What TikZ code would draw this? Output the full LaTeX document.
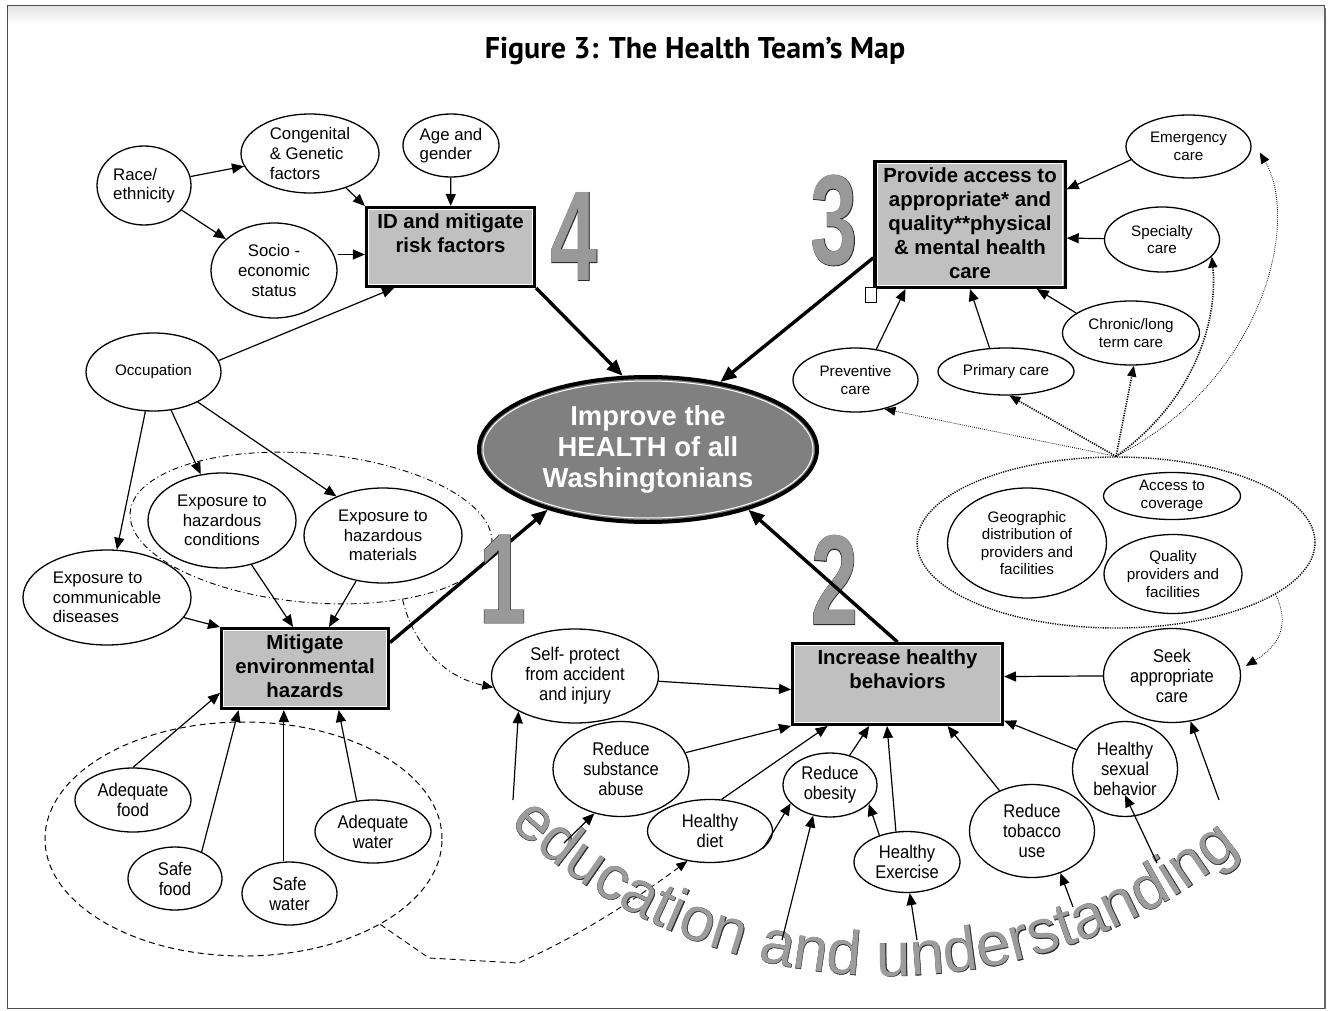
\documentclass[tikz,border=0pt]{standalone}
\usepackage{fontspec}
\setmainfont{Liberation Sans}
\newfontfamily\narrowfont[FakeStretch=0.9]{Liberation Sans}
\newfontfamily\titlefont{PT Sans}
\newfontfamily\digitfont[FakeStretch=0.66]{Liberation Sans}
\newfontfamily\digitedge[FakeStretch=0.66,FakeBold=0.7]{Liberation Sans}
\newfontfamily\edufont{Liberation Sans}
\newfontfamily\eduedge[FakeBold=0.6]{Liberation Sans}
\usetikzlibrary{shapes.geometric,arrows.meta,decorations.text}

\definecolor{boxgray}{HTML}{C0C0C0}
\definecolor{goalgray}{HTML}{808080}
\definecolor{digitgray}{HTML}{999999}
\definecolor{numedge}{HTML}{2A2A2A}
\definecolor{edugray}{HTML}{9C9C9C}

% text of the goal boxes sits at the top
\newcommand{\boxlines}[3]{\parbox[c][#2][t]{#1}{\centering #3}}
% big outlined step numbers
\newcommand{\bignum}[3]{%
  \node[num, text=numedge, font=\digitedge\bfseries\fontsize{64}{64}\selectfont] (#1) at (#2) {#3};
  \node[num] (#1fill) at (#2) {#3};}

\tikzset{
  bubble/.style={ellipse, draw, line width=.65pt, inner sep=0pt, align=center,
    font=\narrowfont\fontsize{9.2}{10}\selectfont},
  plain/.style={ellipse, draw, line width=.65pt, inner sep=0pt, align=center,
    font=\fontsize{8.4}{9.8}\selectfont},
  smallbubble/.style={ellipse, draw, line width=.65pt, inner sep=0pt, align=center,
    font=\fontsize{7.6}{8.8}\selectfont},
  goalbox/.style={rectangle, draw, line width=1.6pt, fill=boxgray, inner sep=3pt,
    font=\bfseries\fontsize{10.2}{12}\selectfont},
  zone/.style={ellipse, draw, inner sep=0pt},
  num/.style={inner sep=0pt, text=digitgray, font=\digitfont\bfseries\fontsize{64}{64}\selectfont},
  arr/.style={-{Triangle[length=6pt,width=5pt]}, line width=.6pt},
  bigarr/.style={-{Triangle[length=8pt,width=6.5pt]}, line width=1.7pt},
  dotarr/.style={-{Triangle[length=5.5pt,width=4.5pt]}, line width=.4pt, dash pattern=on .4pt off .6pt},
  bolddotarr/.style={-{Triangle[length=5.5pt,width=4.5pt]}, line width=.8pt, dash pattern=on .6pt off .6pt},
  dasharr/.style={-{Triangle[length=5.5pt,width=4.5pt]}, line width=.45pt, dash pattern=on 3pt off 2pt},
  dotdasharr/.style={-{Triangle[length=5.5pt,width=4.5pt]}, line width=.45pt, dash pattern=on 3pt off 1.5pt on .5pt off 1.5pt},
}

\begin{document}
\begin{tikzpicture}[x=0.5pt,y=-0.5pt]
\useasboundingbox (0,0) rectangle (1333,1011);

% page frame
\shade[top color=gray!22, bottom color=white] (7,6) rectangle (1324,24);
\draw[black!70, line width=.5pt] (7,6) rectangle (1324,1008);
\draw[black!60, line width=1.2pt] (1325,8) -- (1325,1009);

\node[font=\titlefont\bfseries\fontsize{15}{15}\selectfont, anchor=base] (title) at (695,59) {Figure 3: The Health Team’s Map};

% centre
\node[ellipse, draw, line width=2pt, fill=goalgray, text=white, align=center, inner sep=0pt,
  font=\bfseries\fontsize{13.7}{15.7}\selectfont, minimum width=169pt, minimum height=72.5pt]
  (goal) at (648,449.5) {Improve the\\HEALTH of all\\Washingtonians};
\draw[white, line width=.5pt] (goal.center) ellipse[x radius=165, y radius=68.5];

% 4: risk factors
\node[plain, align=left, minimum width=47pt, minimum height=39.5pt] (race) at (144,185.5) {Race/\\ethnicity};
\node[plain, align=left, minimum width=69pt, minimum height=39.5pt] (cong) at (310,153.5) {Congenital\\\& Genetic\\factors};
\node[plain, align=left, minimum width=48pt, minimum height=31.5pt] (age) at (451,145.5) {Age and\\gender};
\node[plain, minimum width=63pt, minimum height=47.5pt] (socio) at (274,270.5) {Socio -\\economic\\status};
\node[goalbox, minimum width=83.9pt, minimum height=39.4pt] (idb) at (450.5,247)
  {\boxlines{78pt}{33pt}{ID and mitigate\\risk factors}};

% 1: environment
\node[smallbubble, minimum width=67.5pt, minimum height=39pt] (occ) at (153.5,372) {Occupation};
\node[zone, line width=.45pt, dash pattern=on 3pt off 1.5pt on .5pt off 1.5pt, rotate=-5,
  minimum width=181.5pt, minimum height=74.5pt] (hazzone) at (311,528) {};
\node[plain, minimum width=74pt, minimum height=47.5pt] (hcond) at (222,520.5) {Exposure to\\hazardous\\conditions};
\node[plain, minimum width=79pt, minimum height=47.5pt] (hmat) at (383,535.5) {Exposure to\\hazardous\\materials};
\node[plain, align=left, minimum width=84pt, minimum height=47.5pt] (comm) at (107,597.5) {Exposure to\\communicable\\diseases};
\node[goalbox, minimum width=83.4pt, minimum height=39.9pt] (envb) at (305,668.5)
  {\boxlines{77pt}{33.5pt}{Mitigate\\environmental\\hazards}};
\node[zone, line width=.5pt, dash pattern=on 3pt off 2pt, minimum width=198.5pt, minimum height=117pt] (foodzone) at (243.5,839) {};
\node[bubble, minimum width=58pt, minimum height=32pt] (adfood) at (133,800) {Adequate\\food};
\node[bubble, minimum width=47pt, minimum height=31.5pt] (sfood) at (175,878.5) {Safe\\food};
\node[bubble, minimum width=47.5pt, minimum height=31.5pt] (swater) at (289.5,893.5) {Safe\\water};
\node[bubble, minimum width=58pt, minimum height=31.5pt] (adwater) at (373,831.5) {Adequate\\water};

% 3: access to care
\node[goalbox, minimum width=95.1pt, minimum height=62.9pt] (provb) at (970,224.5)
  {\boxlines{89pt}{56.5pt}{Provide access to\\appropriate* and\\quality**physical\\\& mental health\\care}};
\node[draw, fill=white, line width=.5pt, inner sep=0pt, minimum width=5.5pt, minimum height=7.5pt] (tab) at (871,294.5) {};
\node[smallbubble, minimum width=62.5pt, minimum height=31.5pt] (emerg) at (1188.5,146.5) {Emergency\\care};
\node[smallbubble, minimum width=57.5pt, minimum height=32.5pt] (spec) at (1162,239.5) {Specialty\\care};
\node[smallbubble, minimum width=68.5pt, minimum height=32pt] (chron) at (1131,333) {Chronic/long\\term care};
\node[smallbubble, minimum width=62.5pt, minimum height=32pt] (prev) at (855.5,380) {Preventive\\care};
\node[smallbubble, minimum width=68pt, minimum height=23.5pt] (prim) at (1006,371.5) {Primary care};
\node[zone, line width=.7pt, dash pattern=on .6pt off .6pt, minimum width=199pt, minimum height=85.5pt] (supply) at (1116,542.5) {};
\node[smallbubble, minimum width=79.5pt, minimum height=55pt] (geo) at (1027,543) {Geographic\\distribution of\\providers and\\facilities};
\node[smallbubble, minimum width=68.5pt, minimum height=23.5pt] (acc) at (1172,496) {Access to\\coverage};
\node[smallbubble, minimum width=69pt, minimum height=39.5pt] (qual) at (1173,574) {Quality\\providers and\\facilities};

% 2: behaviours
\node[goalbox, minimum width=104.9pt, minimum height=40.4pt] (behb) at (897.5,684)
  {\boxlines{98pt}{34pt}{Increase healthy\\behaviors}};
\node[bubble, minimum width=68.5pt, minimum height=47pt] (seek) at (1172,675.5) {Seek\\appropriate\\care};
\node[bubble, minimum width=83.5pt, minimum height=47pt] (self) at (575,676) {Self- protect\\from accident\\and injury};
\node[bubble, minimum width=68pt, minimum height=47.5pt] (subst) at (621,769) {Reduce\\substance\\abuse};
\node[bubble, minimum width=62.5pt, minimum height=31.5pt] (diet) at (710,831) {Healthy\\diet};
\node[bubble, minimum width=47pt, minimum height=32pt] (obes) at (830,785) {Reduce\\obesity};
\node[bubble, minimum width=53pt, minimum height=30.5pt] (exer) at (907,862) {Healthy\\Exercise};
\node[bubble, minimum width=62.5pt, minimum height=46.5pt] (tob) at (1032,831) {Reduce\\tobacco\\use};
\node[bubble, minimum width=52.5pt, minimum height=47.5pt] (sex) at (1125,769) {Healthy\\sexual\\behavior};

% inner white rims of the boxes
\foreach \b in {idb,envb,provb,behb}
  \draw[white, line width=.5pt] ([shift={(1.9pt,-1.9pt)}]\b.north west) rectangle ([shift={(-1.9pt,1.9pt)}]\b.south east);

% risk factor links
\draw[arr] (race) -- (cong);
\draw[arr] (race) -- (socio);
\draw[arr] (cong) -- (idb.north west);
\draw[arr] (age) -- (idb);
\draw[arr] (socio.east |- idb.185) -- (idb.185);
\draw[arr] (occ.10) -- (idb.216);

% environment links
\draw[arr] (occ) -- (hcond);
\draw[arr] (occ) -- (hmat.140);
\draw[arr] (occ) -- (comm);
\draw[arr] (hcond) -- (envb.106);
\draw[arr] (hmat) -- (envb.60);
\draw[arr] (comm) -- (envb.north west);
\draw[arr] (adfood.north) -- (envb.196);
\draw[arr] (sfood.45) -- (envb.212);
\draw[arr] (envb.243 |- swater.north) -- (envb.243);
\draw[arr] (adwater.118) -- (envb.-51);
\draw[dotdasharr] (hazzone.-33) .. controls (412,640) and (440,676) .. (self.188);
\draw[dasharr] (foodzone.-32) -- (429,958) -- (518,963) .. controls (580,936) and (640,896) .. (diet.233);

% access links
\draw[arr] (emerg.193) -- (provb.20);
\draw[arr] (spec) -- (provb.-8);
\draw[arr] (chron.160) -- (provb.-44);
\draw[arr] (prim.125) -- (provb.south);
\draw[arr] (prev.56) -- (provb.-135);
\draw[dotarr] (supply.north) -- (prev.-45);
\draw[bolddotarr] (supply.north) -- (prim.-82);
\draw[bolddotarr] (supply.north) -- (chron.-85);
\draw[bolddotarr] (supply.north) .. controls (1195,400) and (1218,320) .. (spec.-19);
\draw[dotarr] (supply.north) .. controls (1265,380) and (1300,220) .. ([shift={(4pt,-3pt)}]emerg.east);
\draw[dotarr] (supply.-18.5) .. controls (1290,625) and (1280,645) .. ([xshift=3pt]seek.8);

% behaviour links
\draw[arr] (seek) -- (behb.4);
\draw[arr] (self) -- (behb.183);
\draw[arr] (subst) -- (behb.south west);
\draw[arr] (diet.70) -- (behb.211);
\draw[arr] (obes) -- (behb.236);
\draw[arr] (exer.110) -- (behb.256);
\draw[arr] (tob) -- (behb.-40);
\draw[arr] (sex) -- (behb.-19);
\draw[arr] (diet.-18) -- (obes.205);
\draw[arr] (exer.136) -- (obes.-26);

% into the centre
\bignum{two}{834.5,580}{2}
\bignum{three}{834,220.5}{3}
\bignum{four}{574,236.5}{4}
\draw[bigarr] (envb.17) -- (goal.211);
\draw[bigarr] (idb.south east) -- (goal.109);
\draw[bigarr] (provb.199) -- (goal.43);
\draw[bigarr] (behb.north) -- (goal.-31);
\bignum{one}{502.5,579}{1}

% education and understanding
\coordinate (arcc) at (889,425);
\path[decorate, decoration={text along path, text align=center,
  text={|\eduedge\fontsize{31}{31}\selectfont\color{numedge}|education and understanding}}]
  ([shift={(137:551)}]arcc) arc[start angle=137, end angle=47, radius=551];
\path[decorate, decoration={text along path, text align=center,
  text={|\edufont\fontsize{31}{31}\selectfont\color{edugray}|education and understanding}}]
  ([shift={(137:551)}]arcc) arc[start angle=137, end angle=47, radius=551];
\coordinate (edu1) at (513,800);
\coordinate (edu2) at (564,843);
\coordinate (edu3) at (782,940);
\coordinate (edu4) at (917,940);
\coordinate (edu5) at (1073,907);
\coordinate (edu6) at (1157,863);
\coordinate (edu7) at (1219,800);
\draw[arr] (edu1) -- (self.212);
\draw[arr] (edu2) -- (subst.239);
\draw[arr] (edu3) -- (obes.241);
\draw[arr] (edu4) -- (exer.-85);
\draw[arr] (edu5) -- (tob.-56);
\draw[arr] (edu6) -- ([yshift=11pt]sex.south);
\draw[arr] (edu7) -- (seek.-68);
\end{tikzpicture}
\end{document}
